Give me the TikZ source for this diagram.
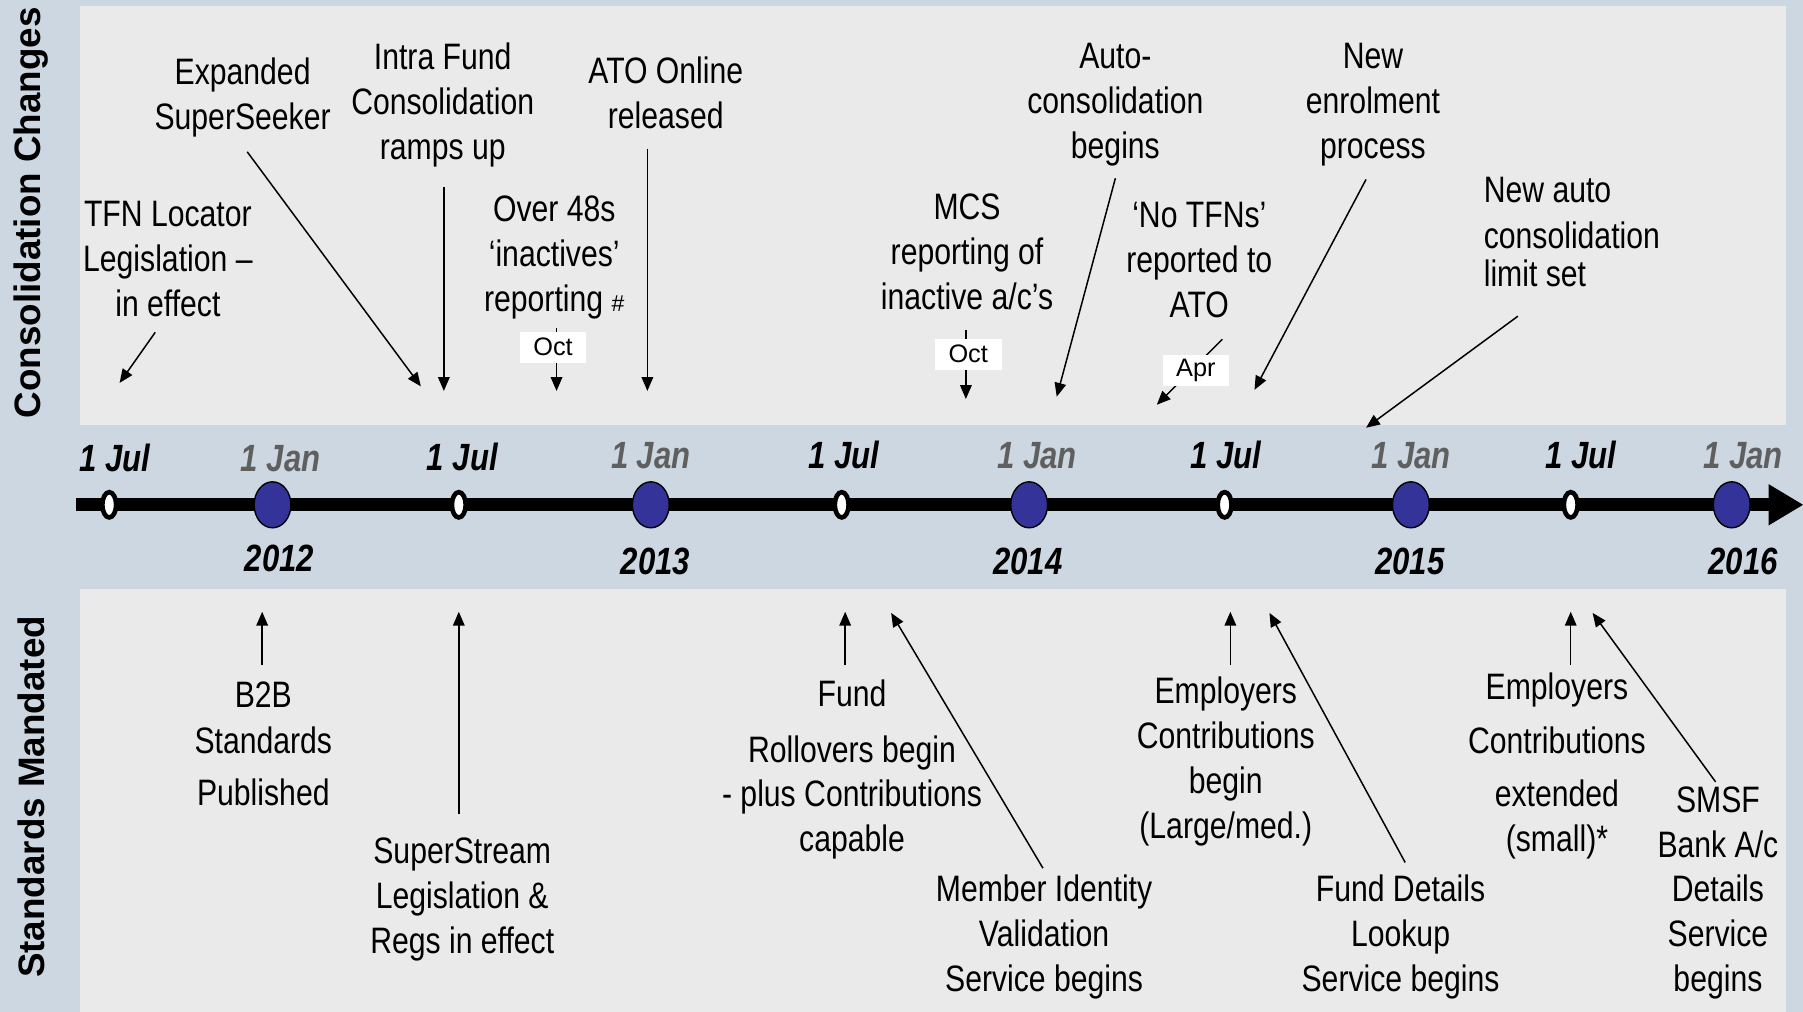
\documentclass[tikz,border=0pt]{standalone}
\usepackage{fontspec}
\setmainfont{Liberation Sans}
\newfontfamily\narrow[FakeStretch=0.82]{Liberation Sans}
\usetikzlibrary{arrows.meta,shapes.geometric}

\definecolor{bandbg}{RGB}{205,215,225}
\definecolor{panelbg}{RGB}{234,234,234}
\definecolor{janblue}{RGB}{51,51,153}
\definecolor{jangrey}{RGB}{95,95,95}

\begin{document}
\begin{tikzpicture}[x=0.5pt,y=-0.5pt,
  evt/.style={font=\narrow\fontsize{16}{19.5}\selectfont, align=center, inner sep=0pt},
  ptr/.style={-{Triangle[length=6pt,width=5pt]}, line width=0.65pt},
  monthtag/.style={fill=white, font=\fontsize{11}{13}\selectfont, minimum width=29pt, minimum height=13.5pt, inner sep=0pt},
  juldot/.style={ellipse, draw=black, fill=white, line width=2pt, minimum width=6pt, minimum height=11pt, inner sep=0pt},
  jandot/.style={ellipse, draw=black, fill=janblue, line width=0.6pt, minimum width=16pt, minimum height=20pt, inner sep=0pt},
  julday/.style={font=\narrow\bfseries\itshape\fontsize{16.5}{18}\selectfont, inner sep=0pt},
  janday/.style={julday, text=jangrey},
  yearlbl/.style={julday},
  side/.style={font=\bfseries\fontsize{16}{18}\selectfont, rotate=90, text=black, inner sep=0pt}
]
% background and the two event panels
\fill[bandbg] (0,0) rectangle (1568,880);
\useasboundingbox (0,0) rectangle (1568,880);
\fill[panelbg] (70,5) rectangle (1553,370);
\fill[panelbg] (70,512) rectangle (1553,880);

% side headings
\node[side] (hdtop) at (27,185) {Consolidation Changes};
\node[side] (hdbot) at (27,693) {Standards Mandated};

% timeline axis
\draw[line width=5.5pt] (66,439) -- (1542,439);
\fill (1538,421) -- (1568,439) -- (1538,457) -- cycle;

% half-year markers
\foreach \nm/\x in {j12/95, j13/399, j14/732, j15/1065, j16/1366}
  \node[juldot] (\nm) at (\x,439) {};
\foreach \nm/\x in {y12/237, y13/566, y14/895, y15/1227, y16/1506}
  \node[jandot] (\nm) at (\x,439) {};

% date labels
\node[julday] (lj12) at (100,398) {1 Jul};
\node[julday] (lj13) at (402,397) {1 Jul};
\node[julday] (lj14) at (734,396) {1 Jul};
\node[julday] (lj15) at (1066,396) {1 Jul};
\node[julday] (lj16) at (1375,396) {1 Jul};
\node[janday] (ly12) at (244,399) {1 Jan};
\node[janday] (ly13) at (566,396) {1 Jan};
\node[janday] (ly14) at (902,396) {1 Jan};
\node[janday] (ly15) at (1227,396) {1 Jan};
\node[janday] (ly16) at (1516,396) {1 Jan};
\node[yearlbl] (n12) at (243,486) {2012};
\node[yearlbl] (n13) at (570,488) {2013};
\node[yearlbl] (n14) at (894,488) {2014};
\node[yearlbl] (n15) at (1226,488) {2015};
\node[yearlbl] (n16) at (1516,488) {2016};

% ---- consolidation changes ----
\node[evt] (tfn) at (146,225) {TFN Locator\\Legislation –\\in effect};
\node[evt] (exp) at (211,85) {Expanded\\SuperSeeker};
\node[evt] (intra) at (385,91) {Intra Fund\\Consolidation\\ramps up};
\node[evt] (over) at (482,224) {Over 48s\\‘inactives’\\reporting {\normalfont\fontsize{10}{12}\selectfont\#}};
\node[evt] (ato) at (579,81) {ATO Online\\released};
\node[evt] (mcs) at (841,219) {MCS\\reporting of\\inactive a/c’s};
\node[evt] (autoc) at (970,91) {Auto-\\consolidation\\begins};
\node[evt] (notfn) at (1043,226) {‘No TFNs’\\reported to\\ATO};
\node[evt] (enrol) at (1194,91) {New\\enrolment\\process};
\node[evt,align=left,anchor=west] (limit) at (1290,202) {New auto\\[0.5pt]consolidation\\[-3pt]limit set};

\coordinate (tfnA) at (135,289);   \coordinate (tfnB) at (104,333);
\coordinate (expA) at (215,132);   \coordinate (expB) at (366,336);
\coordinate (intA) at (386,163);   \coordinate (intB) at (386,340);
\coordinate (ovrA) at (484,285);   \coordinate (ovrB) at (484,340);
\coordinate (atoA) at (563,130);   \coordinate (atoB) at (563,340);
\coordinate (mcsA) at (840,287);   \coordinate (mcsB) at (840,347);
\coordinate (autA) at (970,155);   \coordinate (autB) at (919,345);
\coordinate (ntfA) at (1063,295);  \coordinate (ntfB) at (1006,352);
\coordinate (enrA) at (1188,156);  \coordinate (enrB) at (1091,339);
\coordinate (limA) at (1320,275);  \coordinate (limB) at (1188,372);

\draw[ptr] (tfnA) -- (tfnB);
\draw[ptr] (expA) -- (expB);
\draw[ptr] (intA) -- (intB);
\draw[ptr] (ovrA) -- (ovrB);
\draw[ptr] (atoA) -- (atoB);
\draw[ptr] (mcsA) -- (mcsB);
\draw[ptr] (autA) -- (autB);
\draw[ptr] (ntfA) -- (ntfB);
\draw[ptr] (enrA) -- (enrB);
\draw[ptr] (limA) -- (limB);

\node[monthtag] (octA) at (481,302) {Oct};
\node[monthtag] (octB) at (842,308) {Oct};
\node[monthtag] (aprA) at (1040,322) {Apr};

% ---- standards mandated ----
\node[evt] (b2b) at (229,647) {B2B\\[0.5pt]Standards\\[3pt]Published};
\node[evt] (sstream) at (402,782.5) {SuperStream\\Legislation \&\\Regs in effect};
\node[evt] (fund) at (741,669.5) {Fund\\[4.5pt]Rollovers begin\\- plus Contributions\\capable};
\node[evt] (member) at (908,815) {Member Identity\\Validation\\Service begins};
\node[evt] (emplg) at (1066,662) {Employers\\Contributions\\begin\\(Large/med.)};
\node[evt] (fdl) at (1218,815) {Fund Details\\Lookup\\Service begins};
\node[evt] (emsm) at (1354,666) {Employers\\[4pt]Contributions\\[3.5pt]extended\\(small)*};
\node[evt] (smsf) at (1494,776.5) {SMSF\\Bank A/c\\Details\\Service\\begins};

\coordinate (b2bA) at (228,578);   \coordinate (b2bB) at (228,532);
\coordinate (sstA) at (399,708);   \coordinate (sstB) at (399,532);
\coordinate (fndA) at (735,578);   \coordinate (fndB) at (735,532);
\coordinate (memA) at (907,755);   \coordinate (memB) at (775,533);
\coordinate (elgA) at (1070,578);  \coordinate (elgB) at (1070,532);
\coordinate (fdlA) at (1222,750);  \coordinate (fdlB) at (1104,533);
\coordinate (esmA) at (1366,578);  \coordinate (esmB) at (1366,532);
\coordinate (smsA) at (1492,680);  \coordinate (smsB) at (1385,533);

\draw[ptr] (b2bA) -- (b2bB);
\draw[ptr] (sstA) -- (sstB);
\draw[ptr] (fndA) -- (fndB);
\draw[ptr] (memA) -- (memB);
\draw[ptr] (elgA) -- (elgB);
\draw[ptr] (fdlA) -- (fdlB);
\draw[ptr] (esmA) -- (esmB);
\draw[ptr] (smsA) -- (smsB);
\end{tikzpicture}
\end{document}
